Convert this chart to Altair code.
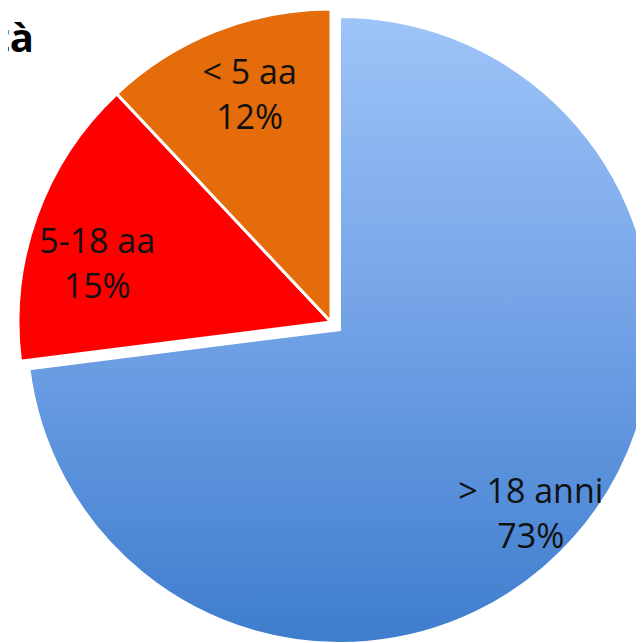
import math
import altair as alt
import pandas as pd

# data
categories = ["> 18 anni", "5-18 aa", "< 5 aa"]
values = [73, 15, 12]
order = [0, 1, 2]
title_text = ["Età"]

df = pd.DataFrame({"cat": categories, "value": values, "idx": order})

theta_scale = alt.Scale(domain=[0, 100], range=[0, 2 * math.pi])

base = (
    alt.Chart(df)
    .transform_window(cum="sum(value)", sort=[alt.SortField("idx")], frame=[None, 0])
    .transform_calculate(
        start="datum.cum - datum.value",
        end="datum.cum",
        mid="datum.cum - datum.value / 2",
        label="datum.cat + '\\n' + datum.value + '%'",
    )
)

blue_grad = alt.LinearGradient(
    gradient="linear",
    stops=[
        alt.GradientStop(offset=0, color="#9EC4F8"),
        alt.GradientStop(offset=0.5, color="#71A1E6"),
        alt.GradientStop(offset=1, color="#3E7DCD"),
    ],
    x1=0, x2=0, y1=0, y2=1,
)

R = 313
blue_c = (332, 322)
other_c = (323, 314)

blue_arc = base.transform_filter(alt.datum.cat == "> 18 anni").mark_arc(
    fill=blue_grad, stroke="white", strokeWidth=2, radius=R
).encode(
    theta=alt.Theta("start:Q", scale=theta_scale),
    theta2="end:Q",
    x=alt.value(blue_c[0]),
    y=alt.value(blue_c[1]),
)

other_arc = base.transform_filter(alt.datum.cat != "> 18 anni").mark_arc(
    stroke="white", strokeWidth=3, radius=R
).encode(
    theta=alt.Theta("start:Q", scale=theta_scale),
    theta2="end:Q",
    color=alt.Color(
        "cat:N",
        scale=alt.Scale(domain=["5-18 aa", "< 5 aa"], range=["#FF0000", "#E46C0A"]),
        legend=None,
    ),
    x=alt.value(other_c[0]),
    y=alt.value(other_c[1]),
)

text_props = dict(
    font="Open Sans", fontSize=34, lineBreak="\n", lineHeight=45,
    align="center", baseline="middle", color="#111111",
)

blue_text = base.transform_filter(alt.datum.cat == "> 18 anni").mark_text(
    radius=265, dx=-8, dy=-12, **text_props
).encode(
    theta=alt.Theta("mid:Q", scale=theta_scale, stack=False),
    text="label:N",
    x=alt.value(blue_c[0]),
    y=alt.value(blue_c[1]),
)

red_text = base.transform_filter(alt.datum.cat == "5-18 aa").mark_text(
    radius=240, dx=-8, dy=2, **text_props
).encode(
    theta=alt.Theta("mid:Q", scale=theta_scale, stack=False),
    text="label:N",
    x=alt.value(other_c[0]),
    y=alt.value(other_c[1]),
)

orange_text = base.transform_filter(alt.datum.cat == "< 5 aa").mark_text(
    radius=240, dx=7, dy=-25, **text_props
).encode(
    theta=alt.Theta("mid:Q", scale=theta_scale, stack=False),
    text="label:N",
    x=alt.value(other_c[0]),
    y=alt.value(other_c[1]),
)

title = alt.Chart(pd.DataFrame({"t": title_text})).mark_text(
    font="Open Sans", fontWeight="bold", fontSize=40, align="right",
    baseline="alphabetic", color="#000000",
).encode(text="t:N", x=alt.value(26), y=alt.value(44))

chart = (
    alt.layer(blue_arc, other_arc, blue_text, red_text, orange_text, title)
    .properties(width=628, height=635, padding=0, autosize=alt.AutoSizeParams(type="none"), background="white")
    .configure_view(stroke=None)
)

chart.save("out.html", embed_options={"renderer": "svg", "actions": False})
